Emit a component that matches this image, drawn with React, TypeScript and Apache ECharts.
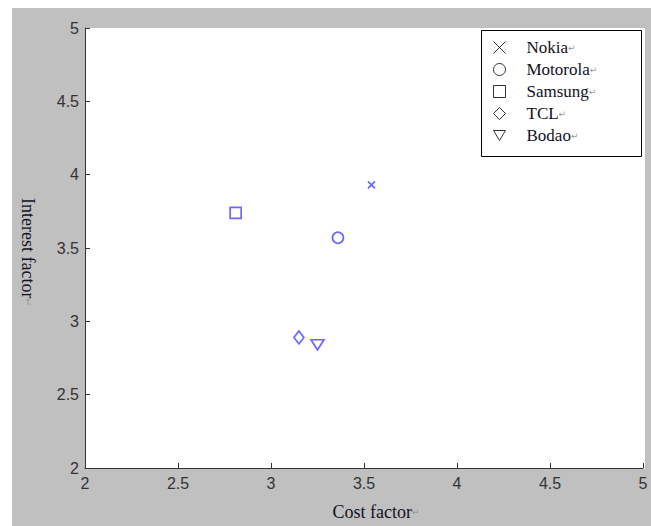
import React, { useEffect, useRef } from "react";
import * as echarts from "echarts";

const brands = ["Nokia", "Motorola", "Samsung", "TCL", "Bodao"];
const costFactor = [3.54, 3.36, 2.81, 3.15, 3.25];
const interestFactor = [3.93, 3.57, 3.74, 2.89, 2.84];
const axisMin = 2;
const axisMax = 5;
const axisStep = 0.5;

const CROSS = "path://M0,0L10,10M10,0L0,10";
const TRI_DOWN = "path://M0,0L12,0L6,10Z";
const seriesSymbols = [CROSS, "circle", "rect", "diamond", TRI_DOWN];
const seriesSizes: any[] = [7, 11, 11, [10, 13], [13, 10]];
const legendIcons = [CROSS, "circle", "rect", "diamond", TRI_DOWN];

export default function App() {
  const ref = useRef<HTMLDivElement>(null);
  useEffect(() => {
    if (!ref.current) return;
    const chart = echarts.init(ref.current, undefined, { renderer: "svg" });
    const blue = "#4444ff";
    const option: any = {
      animation: false,
      backgroundColor: "#ffffff",
      graphic: [
        {
          type: "rect",
          z: -10,
          silent: true,
          shape: { x: 12, y: 8, width: 639, height: 518 },
          style: { fill: "#c0c0c0" },
        },
        {
          type: "rect",
          z: -9,
          silent: true,
          shape: { x: 85, y: 28, width: 560, height: 441 },
          style: { fill: "#ffffff" },
        },
        {
          type: "rect",
          z: 1,
          silent: true,
          shape: { x: 481.5, y: 30.5, width: 160, height: 126 },
          style: { fill: "#ffffff", stroke: "#000000", lineWidth: 1 },
        },
      ],
      grid: { left: 85, top: 28, width: 558, height: 441, containLabel: false },
      legend: {
        orient: "vertical",
        left: 493,
        top: 39,
        padding: 0,
        itemWidth: 12,
        itemHeight: 12,
        itemGap: 5,
        z: 5,
        selectedMode: false,
        data: brands.map((b, i) => ({
          name: b,
          icon: legendIcons[i],
          itemStyle: {
            color: "rgba(0,0,0,0)",
            borderColor: "#000000",
            borderWidth: 1,
          },
        })),
        formatter: (name: string) => `{t|${name}}{r|\u21b5}`,
        textStyle: {
          padding: [0, 0, 0, 16],
          rich: {
            t: {
              fontFamily: "Liberation Serif",
              fontSize: 17,
              color: "#111122",
              lineHeight: 17,
            },
            r: { fontFamily: "DejaVu Sans", fontSize: 9, color: "#999999" },
          },
        },
      },
      xAxis: {
        type: "value",
        min: axisMin,
        max: axisMax,
        interval: axisStep,
        name: "{t|Cost factor}{r|\u21b5}",
        nameLocation: "middle",
        nameGap: 35,
        nameTextStyle: {
          padding: [0, 0, 0, 24],
          rich: {
            t: { fontFamily: "Liberation Serif", fontSize: 18, color: "#111122" },
            r: { fontFamily: "DejaVu Sans", fontSize: 9, color: "#999999" },
          },
        },
        axisLine: { show: true, lineStyle: { color: "#333333", width: 1 } },
        axisTick: { show: true, inside: true, length: 5, lineStyle: { color: "#333333" } },
        splitLine: { show: false },
        axisLabel: {
          margin: 7,
          fontFamily: "Liberation Sans",
          fontSize: 16,
          color: "#333333",
        },
      },
      yAxis: {
        type: "value",
        min: axisMin,
        max: axisMax,
        interval: axisStep,
        name: "{t|Interest factor}{r|\u21b5}",
        nameLocation: "middle",
        nameRotate: -90,
        nameGap: 48,
        nameTextStyle: {
          padding: [0, 0, 0, 8],
          rich: {
            t: { fontFamily: "Liberation Serif", fontSize: 18, color: "#111122" },
            r: { fontFamily: "DejaVu Sans", fontSize: 9, color: "#999999" },
          },
        },
        axisLine: { show: true, lineStyle: { color: "#333333", width: 1 } },
        axisTick: { show: true, inside: true, length: 5, lineStyle: { color: "#333333" } },
        splitLine: { show: false },
        axisLabel: {
          margin: 6,
          fontFamily: "Liberation Sans",
          fontSize: 16,
          color: "#333333",
        },
      },
      series: brands.map((b, i) => ({
        name: b,
        type: "scatter",
        symbol: seriesSymbols[i],
        symbolSize: seriesSizes[i],
        itemStyle: {
          color: "rgba(0,0,0,0)",
          borderColor: blue,
          borderWidth: 1.7,
        },
        data: [[costFactor[i], interestFactor[i]]],
      })),
    };
    chart.setOption(option);
    return () => chart.dispose();
  }, []);
  return (
    <div
      ref={ref}
      style={{ position: "absolute", left: 0, top: 0, width: 651, height: 526 }}
    />
  );
}
